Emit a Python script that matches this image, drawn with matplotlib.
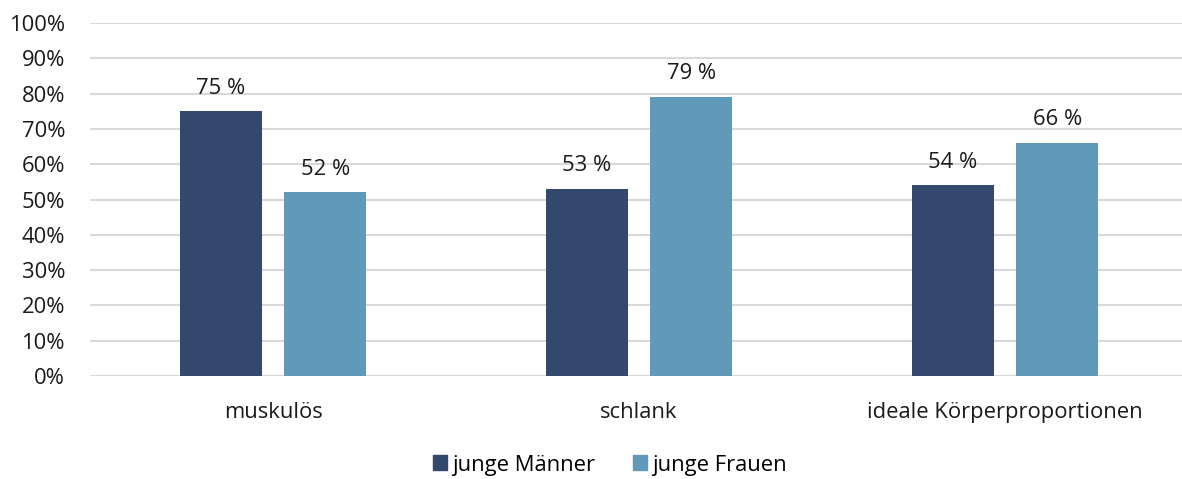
import numpy as np
import matplotlib.pyplot as plt
from matplotlib.patches import Patch

plt.rcParams['font.family'] = ['Open Sans', 'DejaVu Sans']

categories = ["muskulös", "schlank", "ideale Körperproportionen"]
series_names = ["junge Männer", "junge Frauen"]
maenner = [75, 53, 54]
frauen = [52, 79, 66]
yticks = [0, 10, 20, 30, 40, 50, 60, 70, 80, 90, 100]

c_dark = "#34476D"
c_light = "#6199BB"
fs = 15.8

fig = plt.figure(figsize=(11.82, 4.79), dpi=100)
ax = fig.add_axes([90 / 1182, 1 - 376 / 479, (1182 - 90) / 1182, (376 - 23) / 479])

x = np.arange(len(categories))
w = 0.224
off = 0.143
b1 = ax.bar(x - off, maenner, w, color=c_dark, zorder=3)
b2 = ax.bar(x + off, frauen, w, color=c_light, zorder=3)

# Werte ueber den Balken
for bars, vals in ((b1, maenner), (b2, frauen)):
    for b, v in zip(bars, vals):
        ax.text(b.get_x() + b.get_width() / 2, v + 3.6, f"{v} %",
                ha="center", va="bottom", fontsize=fs, color="#1a1a1a")

ax.set_xlim(-0.5, (1182 - 90) / 366 - 0.5)
ax.set_ylim(0, 100)
ax.set_yticks(yticks)
ax.set_yticklabels([f"{t}%" for t in yticks], fontsize=fs, color="#1a1a1a")
ax.set_xticks(x)
ax.set_xticklabels(categories, fontsize=fs, color="#1a1a1a")
ax.tick_params(axis="both", length=0)
ax.tick_params(axis="y", pad=18)
ax.tick_params(axis="x", pad=19)
ax.grid(axis="y", color="#D9D9D9", linewidth=1.5, zorder=0)
for s in ax.spines.values():
    s.set_visible(False)

handles = [Patch(color=c_dark), Patch(color=c_light)]
fig.legend(handles, series_names, loc="center", bbox_to_anchor=(610 / 1182, 1 - 465 / 479),
           ncol=2, frameon=False, fontsize=fs, handlelength=0.65, handleheight=0.65,
           handletextpad=0.25, columnspacing=1.7, borderpad=0)

fig.savefig("out.png", dpi=100)
